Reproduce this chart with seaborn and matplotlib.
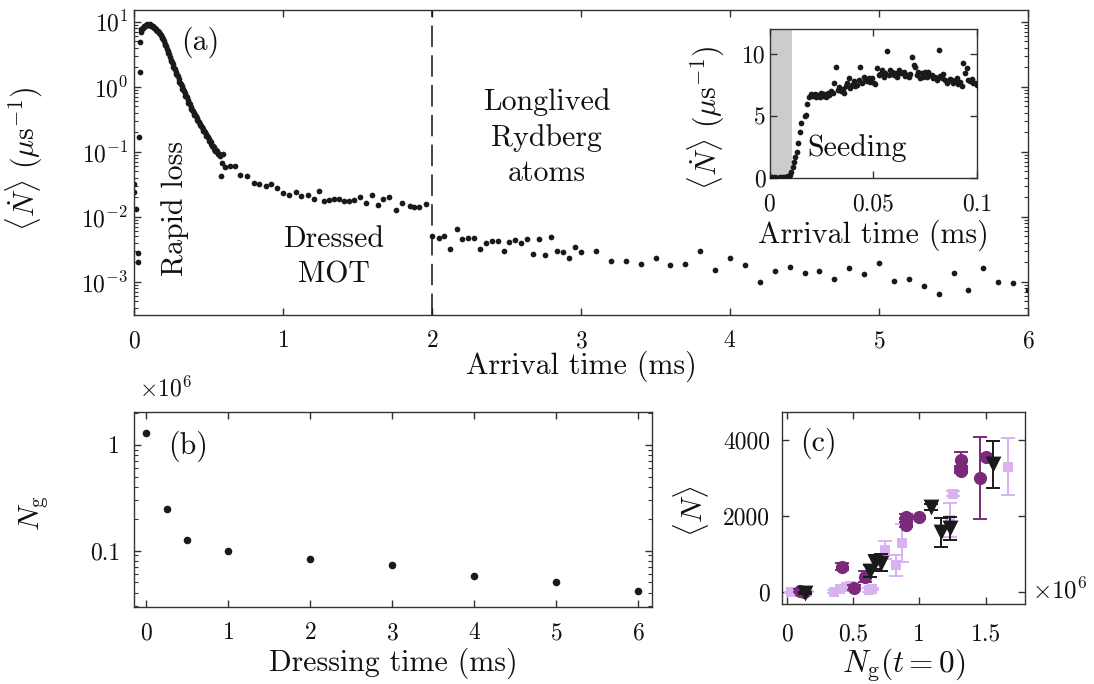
import matplotlib
matplotlib.use("Agg")
import matplotlib.pyplot as plt
import matplotlib.ticker as mticker
import numpy as np
import pandas as pd
import seaborn as sns

# ---------------- panel (a): arrival rate vs arrival time (ms) ----------------
a_time_early = [0.002, 0.003, 0.011, 0.025, 0.029, 0.036, 0.039, 0.042]
a_rate_early = [0.032, 0.024, 0.013, 0.0028, 0.002, 0.17, 1.7, 4.9]

a_time_decay = [0.046, 0.05, 0.055, 0.06, 0.065, 0.07, 0.075, 0.08, 0.085, 0.09, 0.095,
                0.10, 0.105, 0.11, 0.115, 0.12, 0.125, 0.13, 0.135, 0.14, 0.145,
                0.15, 0.155, 0.16, 0.165, 0.17, 0.175, 0.18, 0.185, 0.19, 0.195,
                0.20, 0.205, 0.21, 0.215, 0.22, 0.225, 0.23, 0.235, 0.24, 0.245,
                0.25, 0.255, 0.26, 0.265, 0.27, 0.275, 0.28, 0.285, 0.29, 0.295,
                0.30, 0.305, 0.31, 0.315, 0.32, 0.325, 0.33, 0.335, 0.34, 0.345,
                0.35, 0.355, 0.36, 0.365, 0.37, 0.375, 0.38, 0.385, 0.39, 0.395,
                0.40, 0.405, 0.41, 0.415, 0.42, 0.425, 0.43, 0.435, 0.44, 0.445,
                0.45, 0.455, 0.46, 0.465, 0.47, 0.475, 0.48, 0.485, 0.49, 0.495,
                0.50, 0.505, 0.51, 0.515, 0.52, 0.525, 0.53, 0.535, 0.54, 0.545,
                0.55, 0.555, 0.56, 0.565, 0.57, 0.575, 0.58]
a_rate_decay = [7.0, 7.6, 7.7, 8.1, 8.4, 8.6, 8.6, 8.9, 9.1, 9.0, 8.8,
                9.0, 9.1, 8.9, 8.6, 8.7, 8.6, 8.3, 8.0, 7.9, 7.8,
                7.5, 7.2, 7.2, 7.0, 6.7, 6.5, 6.2, 5.8, 5.6, 5.4,
                5.0, 4.6, 4.4, 4.2, 3.8, 3.5, 3.3, 3.15, 2.85, 2.6,
                2.5, 2.4, 2.2, 2.0, 1.93, 1.86, 1.7, 1.55, 1.5, 1.45,
                1.32, 1.2, 1.16, 1.12, 1.02, 0.93, 0.91, 0.87, 0.80, 0.73,
                0.71, 0.69, 0.63, 0.57, 0.555, 0.54, 0.495, 0.45, 0.44, 0.43,
                0.40, 0.37, 0.363, 0.355, 0.331, 0.305, 0.30, 0.292, 0.272, 0.255,
                0.248, 0.242, 0.226, 0.21, 0.206, 0.20, 0.188, 0.176, 0.174, 0.17,
                0.158, 0.148, 0.145, 0.141, 0.133, 0.124, 0.122, 0.119, 0.112, 0.104,
                0.105, 0.103, 0.098, 0.092, 0.091, 0.09, 0.085]

a_time_tail = [0.585, 0.59, 0.595, 0.613, 0.646, 0.68, 0.714, 0.76, 0.805, 0.84, 0.885,
               0.917, 0.96, 1.0, 1.04, 1.085, 1.12, 1.165, 1.205, 1.24, 1.275, 1.31,
               1.34, 1.375, 1.41, 1.44, 1.475, 1.52, 1.555, 1.60, 1.635, 1.67, 1.71,
               1.76, 1.80, 1.85, 1.88, 1.915, 1.96,
               2.0, 2.05, 2.08, 2.12, 2.165, 2.2, 2.24, 2.28, 2.32, 2.36, 2.4, 2.44,
               2.48, 2.52, 2.56, 2.6, 2.64, 2.68, 2.72, 2.76, 2.8, 2.84, 2.88, 2.92,
               2.96, 3.0, 3.1, 3.2, 3.3, 3.4, 3.5, 3.6, 3.7, 3.8, 3.9, 4.0, 4.1, 4.2,
               4.3, 4.4, 4.5, 4.6, 4.7, 4.8, 4.9, 5.0, 5.1, 5.2, 5.3, 5.4, 5.5, 5.6,
               5.7, 5.8, 5.9, 6.0]
a_rate_tail = [0.043, 0.068, 0.092, 0.059, 0.060, 0.060, 0.044, 0.043, 0.033, 0.032, 0.030,
               0.032, 0.0275, 0.0234, 0.0214, 0.024, 0.021, 0.022, 0.019, 0.025, 0.0174, 0.018,
               0.019, 0.019, 0.0174, 0.0174, 0.018, 0.020, 0.0166, 0.022, 0.0151, 0.019, 0.020,
               0.0129, 0.0166, 0.0146, 0.0141, 0.0141, 0.0155,
               0.0051, 0.0048, 0.0051, 0.0032, 0.0066, 0.0045, 0.0047, 0.0048, 0.0032, 0.0040,
               0.0043, 0.0043, 0.0030, 0.0041, 0.0044, 0.0040, 0.0046, 0.0027, 0.0045, 0.0026,
               0.0049, 0.0030, 0.0029, 0.0023, 0.0035, 0.0029, 0.0030, 0.0021, 0.0021, 0.0019,
               0.0023, 0.0018, 0.0019, 0.0030, 0.00155, 0.0023, 0.0018, 0.0010, 0.00145,
               0.0017, 0.00135, 0.00145, 0.0011, 0.00165, 0.0013, 0.00195, 0.00105, 0.0011,
               0.00087, 0.00066, 0.00135, 0.00076, 0.00166, 0.0010, 0.00095, 0.00076]

# ---------------- inset: early arrival rate (linear) ----------------
in_time = [0.0010, 0.0018, 0.0026, 0.0034, 0.0042, 0.0050, 0.0058, 0.0066, 0.0074, 0.0081,
           0.0089, 0.0097, 0.0105, 0.0112, 0.0118, 0.0124, 0.0132, 0.0137, 0.0145, 0.0153,
           0.0169, 0.0177, 0.0182, 0.0190, 0.0201, 0.0209, 0.0217, 0.0225, 0.0233, 0.0241,
           0.0249, 0.0257, 0.0265, 0.0273, 0.0281, 0.0289, 0.0297, 0.0305, 0.0309, 0.0320,
           0.0328, 0.0336, 0.0344, 0.0352, 0.0360, 0.0368, 0.0374, 0.0382, 0.0390, 0.0398,
           0.0406, 0.0414, 0.0422, 0.0430, 0.0438, 0.0446, 0.0454, 0.0462, 0.0470, 0.0478,
           0.0486, 0.0494, 0.0502, 0.0510, 0.0518, 0.0526, 0.0534, 0.0542, 0.0550, 0.0558,
           0.0566, 0.0574, 0.0582, 0.0590, 0.0598, 0.0606, 0.0614, 0.0622, 0.0630, 0.0638,
           0.0646, 0.0654, 0.0662, 0.0670, 0.0678, 0.0686, 0.0694, 0.0702, 0.0710, 0.0718,
           0.0726, 0.0734, 0.0742, 0.0750, 0.0758, 0.0766, 0.0774, 0.0782, 0.0790, 0.0798,
           0.0806, 0.0816, 0.0824, 0.0830, 0.0838, 0.0846, 0.0854, 0.0862, 0.0870, 0.0878,
           0.0886, 0.0894, 0.0902, 0.0910, 0.0918, 0.0926, 0.0934, 0.0942, 0.0950, 0.0958,
           0.0966, 0.0974, 0.0982, 0.0990, 0.0998]
in_rate = [0.02, 0.0, 0.03, 0.01, 0.0, 0.02, 0.01, 0.03, 0.02, 0.05,
           0.10, 0.25, 0.50, 0.85, 1.30, 1.70, 2.10, 2.80, 3.70, 4.40,
           5.00, 5.10, 6.00, 6.50, 6.80, 6.60, 6.75, 6.55, 6.70, 6.50,
           6.85, 6.60, 6.75, 6.55, 6.90, 6.70, 7.05, 6.85, 7.65, 9.00,
           7.10, 7.35, 7.00, 7.20, 6.85, 7.40, 7.65, 8.05, 7.30, 7.55,
           7.80, 7.45, 7.50, 7.90, 9.00, 7.70, 8.20, 7.95, 7.80, 8.10,
           7.75, 8.05, 7.65, 7.60, 8.85, 8.30, 8.40, 8.70, 8.20, 8.50,
           10.25, 8.35, 8.70, 8.60, 8.30, 8.45, 8.20, 8.70, 8.50, 8.45,
           8.60, 8.25, 8.30, 8.20, 8.40, 9.80, 9.10, 9.00, 8.35, 8.60,
           8.10, 8.45, 8.20, 8.55, 8.20, 8.60, 8.30, 8.30, 8.05, 8.20,
           7.95, 10.35, 8.25, 8.05, 8.40, 7.90, 7.65, 7.80, 8.00, 7.90,
           7.70, 7.85, 8.05, 7.60, 7.75, 7.40, 9.30, 8.45, 8.85, 7.90,
           7.80, 8.00, 7.65, 7.70, 7.55]
seeding_end = 0.0108

# ---------------- panel (b): ground-state atom number (x10^6) ----------------
b_time = [0, 0.25, 0.5, 1, 2, 3, 4, 5, 6]
b_ng = [1.31, 0.245, 0.125, 0.098, 0.083, 0.073, 0.058, 0.050, 0.041]

# ---------------- panel (c): <N> vs Ng(t=0) (x10^6) ----------------
c_sq_x = [0.03, 0.06, 0.10, 0.15, 0.36, 0.40, 0.45, 0.48, 0.62, 0.64, 0.74, 0.82, 0.87, 1.23, 1.255, 1.67]
c_sq_y = [0, 10, 0, 15, 20, 80, 150, 170, 60, 80, 1120, 710, 1300, 1900, 2600, 3300]
c_sq_e = [20, 20, 20, 20, 30, 40, 50, 40, 40, 30, 240, 280, 500, 450, 60, 750]

c_ci_x = [0.10, 0.13, 0.42, 0.51, 0.59, 0.90, 0.90, 0.90, 1.00, 1.31, 1.31, 1.31, 1.46, 1.50]
c_ci_y = [40, 20, 670, 120, 410, 1990, 1900, 1780, 1970, 3480, 3260, 3190, 3020, 3550]
c_ci_e = [40, 30, 90, 60, 140, 60, 60, 60, 50, 200, 60, 60, 1080, 80]

c_tr_x = [0.14, 0.63, 0.665, 0.71, 1.09, 1.16, 1.23, 1.555]
c_tr_y = [-20, 560, 790, 780, 2250, 1580, 1680, 3370]
c_tr_e = [30, 150, 180, 220, 80, 385, 310, 620]

# ---------------- styling ----------------
sns.set_theme(style="ticks")
plt.rcParams.update({
    "font.family": ["cmr10", "DejaVu Serif"],
    "mathtext.fontset": "cm",
    "axes.formatter.use_mathtext": True,
    "axes.unicode_minus": False,
    "font.size": 17,
    "axes.labelsize": 21.5,
    "xtick.labelsize": 17,
    "ytick.labelsize": 17,
    "xtick.direction": "in",
    "ytick.direction": "in",
    "xtick.top": True,
    "ytick.right": True,
    "axes.edgecolor": "#333333",
    "axes.linewidth": 1.0,
    "xtick.color": "#333333",
    "ytick.color": "#333333",
    "xtick.labelcolor": "#111111",
    "ytick.labelcolor": "#111111",
    "axes.labelcolor": "#111111",
    "text.color": "#111111",
})

W, H = 1094, 684
fig = plt.figure(figsize=(W / 100, H / 100), dpi=100)


def box(l, t, r, b):
    return [l / W, 1 - b / H, (r - l) / W, (b - t) / H]


def ticks(ax, xpad, ypad):
    ax.tick_params(which="major", length=5, width=1.0)
    ax.tick_params(which="minor", length=2.8, width=0.8)
    ax.tick_params(axis="x", which="both", pad=xpad)
    ax.tick_params(axis="y", which="both", pad=ypad)


DOT = "#1a1a1a"
RATE_LABEL = r"$\langle\dot{N}\rangle$ $(\mu\mathrm{s}^{-1})$"

# ---- (a)
axA = fig.add_axes(box(134, 9.5, 1028, 315))
dfA = pd.DataFrame({"t": a_time_early + a_time_decay + a_time_tail,
                    "r": a_rate_early + a_rate_decay + a_rate_tail})
sns.scatterplot(data=dfA, x="t", y="r", ax=axA, s=17, color=DOT, linewidth=0)
axA.set_yscale("log")
axA.set_xlim(0, 6)
axA.set_ylim(3.1e-4, 15.4)
axA.axvline(2, color="#111111", lw=1.1, ls=(0, (14, 5.5)))
axA.set_xticks([0, 1, 2, 3, 4, 5, 6])
axA.yaxis.set_major_locator(mticker.LogLocator(base=10, numticks=12))
axA.yaxis.set_minor_locator(mticker.LogLocator(base=10, subs=np.arange(2, 10), numticks=12))
axA.yaxis.set_minor_formatter(mticker.NullFormatter())
ticks(axA, 11, 4)
axA.set_xlabel("Arrival time (ms)")
axA.set_ylabel(RATE_LABEL)
axA.xaxis.set_label_coords(0.5, -0.118)
axA.yaxis.set_label_coords(-0.0996, 0.51)
axA.text(0.0738, 0.892, "(a)", transform=axA.transAxes, ha="center", va="center", fontsize=21.5)
axA.text(0.276, 0.0136, "Rapid loss", rotation=90, ha="center", va="center", fontsize=21.5)
axA.text(1.34, 0.0024, "Dressed\nMOT", ha="center", va="center", fontsize=21.5, linespacing=1.37)
axA.text(2.77, 0.166, "Longlived\nRydberg\natoms", ha="center", va="center", fontsize=21.5,
         linespacing=1.37)

# ---- inset
axI = fig.add_axes(box(769.5, 29, 977, 177.7))
axI.set_facecolor("white")
axI.axvspan(0, seeding_end, color="#cccccc", lw=0, zorder=0)
dfI = pd.DataFrame({"t": in_time, "r": in_rate})
sns.scatterplot(data=dfI, x="t", y="r", ax=axI, s=17, color=DOT, linewidth=0, zorder=3)
axI.set_xlim(0, 0.1)
axI.set_ylim(0, 12.05)
axI.set_xticks([0, 0.05, 0.1])
axI.set_xticklabels(["0", "0.05", "0.1"])
axI.set_yticks([0, 5, 10])
axI.set_yticklabels(["0", "5", "10"])
ticks(axI, 11, 2.5)
axI.set_xlabel("Arrival time (ms)")
axI.set_ylabel(RATE_LABEL)
axI.xaxis.set_label_coords(0.5, -0.285)
axI.yaxis.set_label_coords(-0.206, 0.405)
axI.text(0.0184, 2.4, "Seeding", ha="left", va="center", fontsize=21.5)

# ---- (b)
axB = fig.add_axes(box(134, 412, 652, 607))
dfB = pd.DataFrame({"t": b_time, "n": b_ng})
sns.scatterplot(data=dfB, x="t", y="n", ax=axB, s=30, color=DOT, linewidth=0)
axB.set_yscale("log")
axB.set_xlim(-0.15, 6.17)
axB.set_ylim(0.0292, 2.05)
axB.set_xticks([0, 1, 2, 3, 4, 5, 6])
axB.yaxis.set_major_locator(mticker.FixedLocator([0.1, 1]))
axB.yaxis.set_major_formatter(mticker.FixedFormatter(["0.1", "1"]))
axB.yaxis.set_minor_locator(mticker.LogLocator(base=10, subs=np.arange(2, 10), numticks=12))
axB.yaxis.set_minor_formatter(mticker.NullFormatter())
ticks(axB, 11, 10)
axB.set_xlabel("Dressing time (ms)")
axB.set_ylabel(r"$N_{\mathrm{g}}$")
axB.xaxis.set_label_coords(0.5, -0.21)
axB.yaxis.set_label_coords(-0.162, 0.482)
axB.text(0.104, 0.826, "(b)", transform=axB.transAxes, ha="center", va="center", fontsize=21.5)
fig.text(139 / W, 1 - 389 / H, r"$\times10^{6}$", ha="left", va="center", fontsize=17)

# ---- (c)
axC = fig.add_axes(box(781.7, 411.7, 1025, 604))
LIGHT = "#d9b2f0"
PURPLE = "#7b2a7b"
BLACK = "#1a1a1a"
axC.errorbar(c_sq_x, c_sq_y, yerr=c_sq_e, fmt="none", ecolor=LIGHT, elinewidth=1.4,
             capsize=5, capthick=1.4, zorder=2)
sns.scatterplot(x=c_sq_x, y=c_sq_y, ax=axC, marker="s", s=55, color=LIGHT, linewidth=0, zorder=3)
axC.errorbar(c_ci_x, c_ci_y, yerr=c_ci_e, fmt="none", ecolor=PURPLE, elinewidth=1.4,
             capsize=5, capthick=1.4, zorder=4)
sns.scatterplot(x=c_ci_x, y=c_ci_y, ax=axC, marker="o", s=90, color=PURPLE, linewidth=0, zorder=5)
axC.errorbar(c_tr_x, c_tr_y, yerr=c_tr_e, fmt="none", ecolor=BLACK, elinewidth=1.4,
             capsize=5, capthick=1.4, zorder=6)
sns.scatterplot(x=c_tr_x, y=c_tr_y, ax=axC, marker="v", s=130, color=BLACK, linewidth=0, zorder=7)
axC.set_xlim(-0.038, 1.796)
axC.set_ylim(-308, 4753)
axC.set_xticks([0, 0.5, 1, 1.5])
axC.set_xticklabels(["0", "0.5", "1", "1.5"])
axC.set_yticks([0, 2000, 4000])
axC.set_yticklabels(["0", "2000", "4000"])
ticks(axC, 14, 8.5)
axC.set_xlabel(r"$N_{\mathrm{g}}(t=0)$", fontsize=22.5)
axC.set_ylabel(r"$\langle N\rangle$")
axC.xaxis.set_label_coords(0.5, -0.222)
axC.yaxis.set_label_coords(-0.29, 0.484)
axC.text(0.149, 0.837, "(c)", transform=axC.transAxes, ha="center", va="center", fontsize=21.5)
fig.text(1032 / W, 1 - 591 / H, r"$\times10^{6}$", ha="left", va="center", fontsize=18)

fig.savefig("out.png", dpi=100)
